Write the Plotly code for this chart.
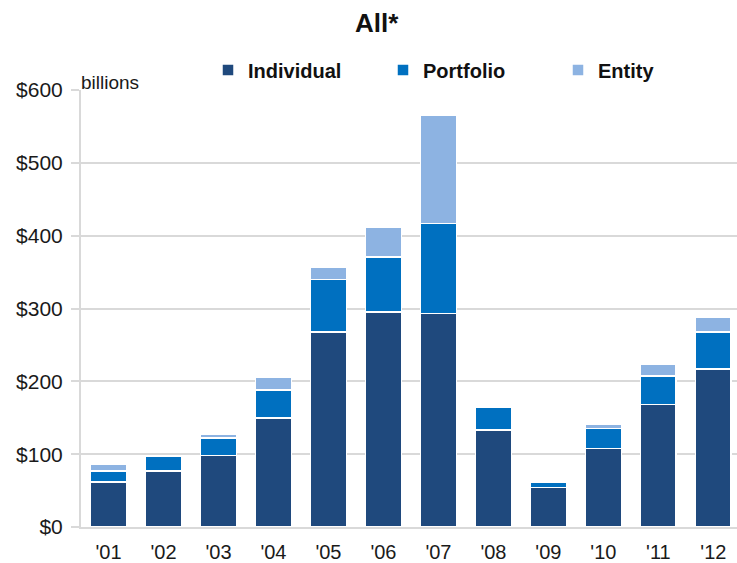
import plotly.graph_objects as go

# Annual totals, $ billions, stacked by transaction type
years = ["'01", "'02", "'03", "'04", "'05", "'06", "'07", "'08", "'09", "'10", "'11", "'12"]
individual = [62, 77, 98, 150, 268, 295, 293, 133, 54, 108, 168, 217]
portfolio = [15, 20, 24, 38, 72, 76, 124, 31, 7, 27, 39, 51]
entity = [9, 0, 6, 18, 17, 41, 149, 0, 0, 6, 17, 20]

y_ticks = [0, 100, 200, 300, 400, 500, 600]
y_labels = ["$0", "$100", "$200", "$300", "$400", "$500", "$600"]

series = [
    ("Individual", individual, "#1F497D"),
    ("Portfolio", portfolio, "#0070C0"),
    ("Entity", entity, "#8DB3E2"),
]

W, H = 737, 563
FONT = "Liberation Sans, Arial, sans-serif"
GRID = "#d9d9d9"

fig = go.Figure()
for name, vals, color in series:
    fig.add_trace(go.Bar(
        x=years, y=vals, name=name,
        marker=dict(color=color, line=dict(color="white", width=1.5)),
        width=0.65,
    ))

fig.update_layout(
    width=W, height=H,
    barmode="stack",
    paper_bgcolor="white", plot_bgcolor="white",
    margin=dict(l=81, r=0, t=90, b=36, autoexpand=False),
    font=dict(family=FONT, color="#1a1a1a", size=20),
    title=dict(
        text="<b>All*</b>", font=dict(size=26, color="#111"),
        x=376.7 / W, xref="container", xanchor="center",
        y=1 - 23 / H, yref="container", yanchor="middle",
    ),
    legend=dict(
        orientation="h", x=208 / W, xref="container", xanchor="left",
        y=1 - 70 / H, yref="container", yanchor="middle",
        font=dict(size=20, family=FONT, color="#111", weight="bold"),
        entrywidth=130, traceorder="normal",
        bgcolor="rgba(0,0,0,0)",
    ),
    showlegend=True,
)

fig.update_xaxes(
    type="category", range=[-0.5, 11.43],
    showgrid=False, showline=True, linecolor=GRID, linewidth=2,
    ticks="", tickfont=dict(size=20), ticklabelstandoff=6,
    fixedrange=True,
)
fig.update_yaxes(
    range=[0, 600], tickvals=y_ticks, ticktext=y_labels,
    showgrid=True, gridcolor=GRID, gridwidth=2,
    showline=True, linecolor=GRID, linewidth=2,
    ticks="outside", ticklen=8, tickcolor=GRID, tickwidth=2,
    tickfont=dict(size=21), ticklabelstandoff=4,
    zeroline=False, fixedrange=True,
)

fig.add_annotation(
    text="billions", xref="paper", yref="paper", x=0, y=1,
    xanchor="left", yanchor="bottom", showarrow=False,
    font=dict(size=19, color="#1a1a1a"), xshift=-2, yshift=-5,
)

fig.write_html("out.html")
